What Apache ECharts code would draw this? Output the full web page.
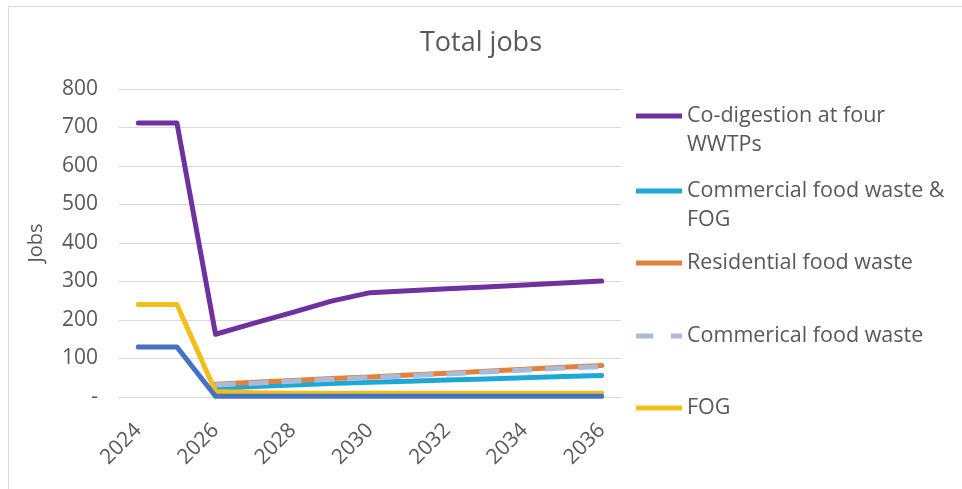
<!DOCTYPE html>
<html>
<head>
<meta charset="utf-8">
<script src="https://cdn.jsdelivr.net/npm/echarts@6/dist/echarts.min.js"></script>
<style>
  html, body { margin: 0; padding: 0; background: #fff; }
  #chart { width: 962px; height: 489px; }
</style>
</head>
<body>
<div id="chart"></div>
<script>
// Years on the category axis
const years = ['2024','2025','2026','2027','2028','2029','2030','2031','2032','2033','2034','2035','2036'];

// Jobs per scenario
const coDigestion     = [712, 712, 163, 192, 220, 249, 271, 276, 281, 286, 291, 296, 301];
const commercialFog   = [null, null, 22, 27, 31, 35, 38, 41, 44, 47, 50, 53, 56];
const residentialFood = [null, null, 33, 38, 43, 48, 52, 57, 62, 67, 72, 77, 82];
const commercialFood  = [null, null, 31, 36, 41, 46, 50, 55, 60, 65, 70, 75, 79];
const fog             = [240, 240, 14, 11, 10, 10, 10, 10, 10, 10, 10, 10, 10];
const other           = [130, 130, 2, 2, 2, 2, 2, 2, 2, 2, 2, 2, 2];

const names = [
  'Co-digestion at four WWTPs',
  'Commercial food waste & FOG',
  'Residential food waste',
  'Commerical food waste',
  'FOG'
];
const wrapped = {
  'Co-digestion at four WWTPs': '\nCo-digestion at four\nWWTPs',
  'Commercial food waste & FOG': '\nCommercial food waste &\nFOG'
};

const FONT = '"Open Sans", "Noto Sans", sans-serif';
const GREY = '#595959';
const SOLID_KEY = 'rect';
const DASH_KEY = 'path://M0,0h17v5h-17zM35,0h11v5h-11z';

function line(name, data, color, extra) {
  return Object.assign({
    name: name,
    type: 'line',
    data: data,
    symbol: 'none',
    lineStyle: { color: color, width: 5, cap: 'round', join: 'round' },
    itemStyle: { color: color },
    emphasis: { disabled: true }
  }, extra || {});
}

// one legend block per entry, stacked down the right side
const legendTops = [72.5, 147.5, 248.5, 321.5, 393.5];
const legends = names.map((n, i) => ({
  data: [{ name: n, icon: i === 3 ? DASH_KEY : SOLID_KEY }],
  orient: 'vertical',
  left: 636,
  top: legendTops[i],
  padding: 0,
  itemWidth: 46,
  itemHeight: 5,
  itemGap: 0,
  selectedMode: false,
  formatter: name => wrapped[name] || name,
  textStyle: { fontFamily: FONT, fontSize: 21.5, color: GREY, lineHeight: 29 }
}));

const chart = echarts.init(document.getElementById('chart'), null, { renderer: 'canvas' });
chart.setOption({
  animation: false,
  backgroundColor: '#ffffff',
  title: {
    text: 'Total jobs',
    left: 'center',
    top: 25,
    textStyle: { fontFamily: FONT, fontSize: 27, fontWeight: 'normal', color: GREY }
  },
  graphic: [{
    type: 'rect',
    shape: { x: 8.5, y: 6.5, width: 970, height: 500 },
    style: { fill: 'none', stroke: '#D9D9D9', lineWidth: 1 },
    silent: true, z: -1
  }],
  legend: legends,
  grid: { left: 119, right: 341, top: 89, bottom: 92, containLabel: false },
  xAxis: {
    type: 'category',
    data: years,
    boundaryGap: true,
    axisTick: { show: false },
    axisLine: { show: true, lineStyle: { color: '#D9D9D9', width: 1 } },
    axisLabel: {
      interval: 1,
      rotate: 45,
      margin: 30,
      fontFamily: FONT, fontSize: 21, color: GREY
    }
  },
  yAxis: {
    type: 'value',
    min: 0, max: 800, interval: 100,
    name: 'Jobs',
    nameLocation: 'middle',
    nameGap: 73,
    nameTextStyle: { fontFamily: FONT, fontSize: 20, color: GREY },
    axisLine: { show: false },
    axisTick: { show: false },
    splitLine: { lineStyle: { color: '#D9D9D9', width: 1 } },
    axisLabel: {
      margin: 21,
      fontFamily: FONT, fontSize: 21, color: GREY,
      formatter: v => v === 0 ? '-' : String(v)
    }
  },
  series: [
    line(names[0], coDigestion, '#7030A0'),
    line(names[1], commercialFog, '#1EA8D8'),
    line(names[2], residentialFood, '#E5803A'),
    line(names[3], commercialFood, '#A8BBDA', { lineStyle: { color: '#A8BBDA', width: 5, type: [20, 13] } }),
    line(names[4], fog, '#F2BE1A'),
    line('Other', other, '#4472C4')
  ]
});
</script>
</body>
</html>
